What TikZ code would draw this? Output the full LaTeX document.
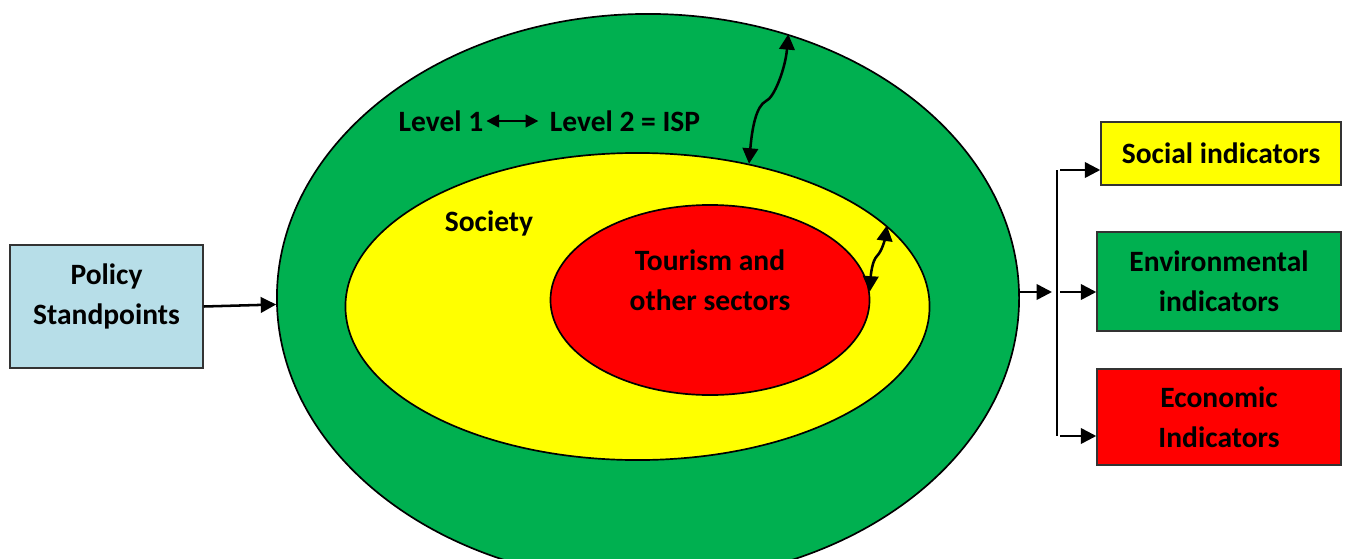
\documentclass[tikz,border=0pt]{standalone}
\usepackage{fontspec}
\setmainfont{Carlito}
\usepackage{xcolor}
\usepackage{tikz}
\usetikzlibrary{arrows.meta}
\usetikzlibrary{shapes.geometric, positioning}

\definecolor{ringgreen}{HTML}{00B050}
\definecolor{ringyellow}{HTML}{FFFF00}
\definecolor{ringred}{HTML}{FF0000}
\definecolor{policyblue}{HTML}{B7DEE8}

\begin{document}
\begin{tikzpicture} [
	x=0.025cm, y=-0.025cm, % one unit is one pixel of the layout, y runs down
	>={Triangle[length=11pt, width=11pt]}, % filled arrow heads
	font=\fontsize{21}{28.5}\selectfont\bfseries, % Calibri-like bold text
	ring/.style={ellipse, draw, line width=1.2pt, inner sep=0pt}, % the nested ellipses
	box/.style={rectangle, draw=black!80, line width=1pt, align=center}, % the boxes
	link/.style={->, line width=1.8pt}, % straight arrows
	wave/.style={<->, line width=1.8pt}, % wavy double arrows
	]
	\useasboundingbox (0,0) rectangle (1349,559);

	% nested rings
	\node[ring, fill=ringgreen, minimum width=18.55cm, minimum height=14.2cm] (outer) at (648,298) {};
	\node[ring, fill=ringyellow, minimum width=14.6cm, minimum height=7.675cm] (middle) at (637.5,306.5) {};
	\node[ring, fill=ringred, minimum width=7.975cm, minimum height=4.75cm] (inner) at (710,300) {};

	\node[inner xsep=2pt] (lvlone) at (441,121) {Level 1};
	\node[inner xsep=2pt] (lvltwo) at (625,121) {Level 2 = ISP};
	\node (society) at (489,223) {Society};
	\node[align=center] (sector) at (710,280) {Tourism and\\other sectors};

	\draw[<->, line width=1.6pt, >={Triangle[length=9pt, width=9pt]}, shorten >=6pt] (lvlone) -- (lvltwo);

	\draw[wave] (middle.52.5) .. controls +(3,-35) and +(-10,5) .. (766,101)
		.. controls +(8,-3) and +(-3,35) .. (outer.62.9);
	\draw[wave] (inner.3.6) .. controls +(1,-16) and +(-5,5) .. (877,256)
		.. controls +(5,-5) and +(-2,14) .. (middle.18.6);

	% left input
	\node[box, fill=policyblue, minimum width=4.825cm, minimum height=3.075cm,
		label={[align=center, yshift=7pt]center:Policy\\Standpoints}] (policy) at (106.5,306.5) {};
	\draw[link] (policy.east) -- (outer.181);

	% right outputs
	\node[box, fill=ringyellow, minimum width=6cm, minimum height=1.575cm] (social) at (1221,153.5) {Social indicators};
	\node[box, fill=ringgreen, minimum width=6.1cm, minimum height=2.475cm] (environ) at (1219,281.5) {Environmental\\indicators};
	\node[box, fill=ringred, minimum width=6.1cm, minimum height=2.4cm] (economic) at (1219,417) {Economic\\Indicators};

	\coordinate (hub) at (1052,292);
	\coordinate (bartop) at (1057,170);
	\coordinate (barbot) at (1057,436);
	\draw[link] (outer.east |- hub) -- (hub);
	\draw[line width=1pt] (bartop) -- (barbot);
	\draw[link] (bartop) ++(3,0) -- (social.west |- bartop);
	\draw[link] (bartop |- hub) ++(3,0) -- (environ.west |- hub);
	\draw[link] (barbot) ++(3,0) -- (economic.west |- barbot);
\end{tikzpicture}
\end{document}
